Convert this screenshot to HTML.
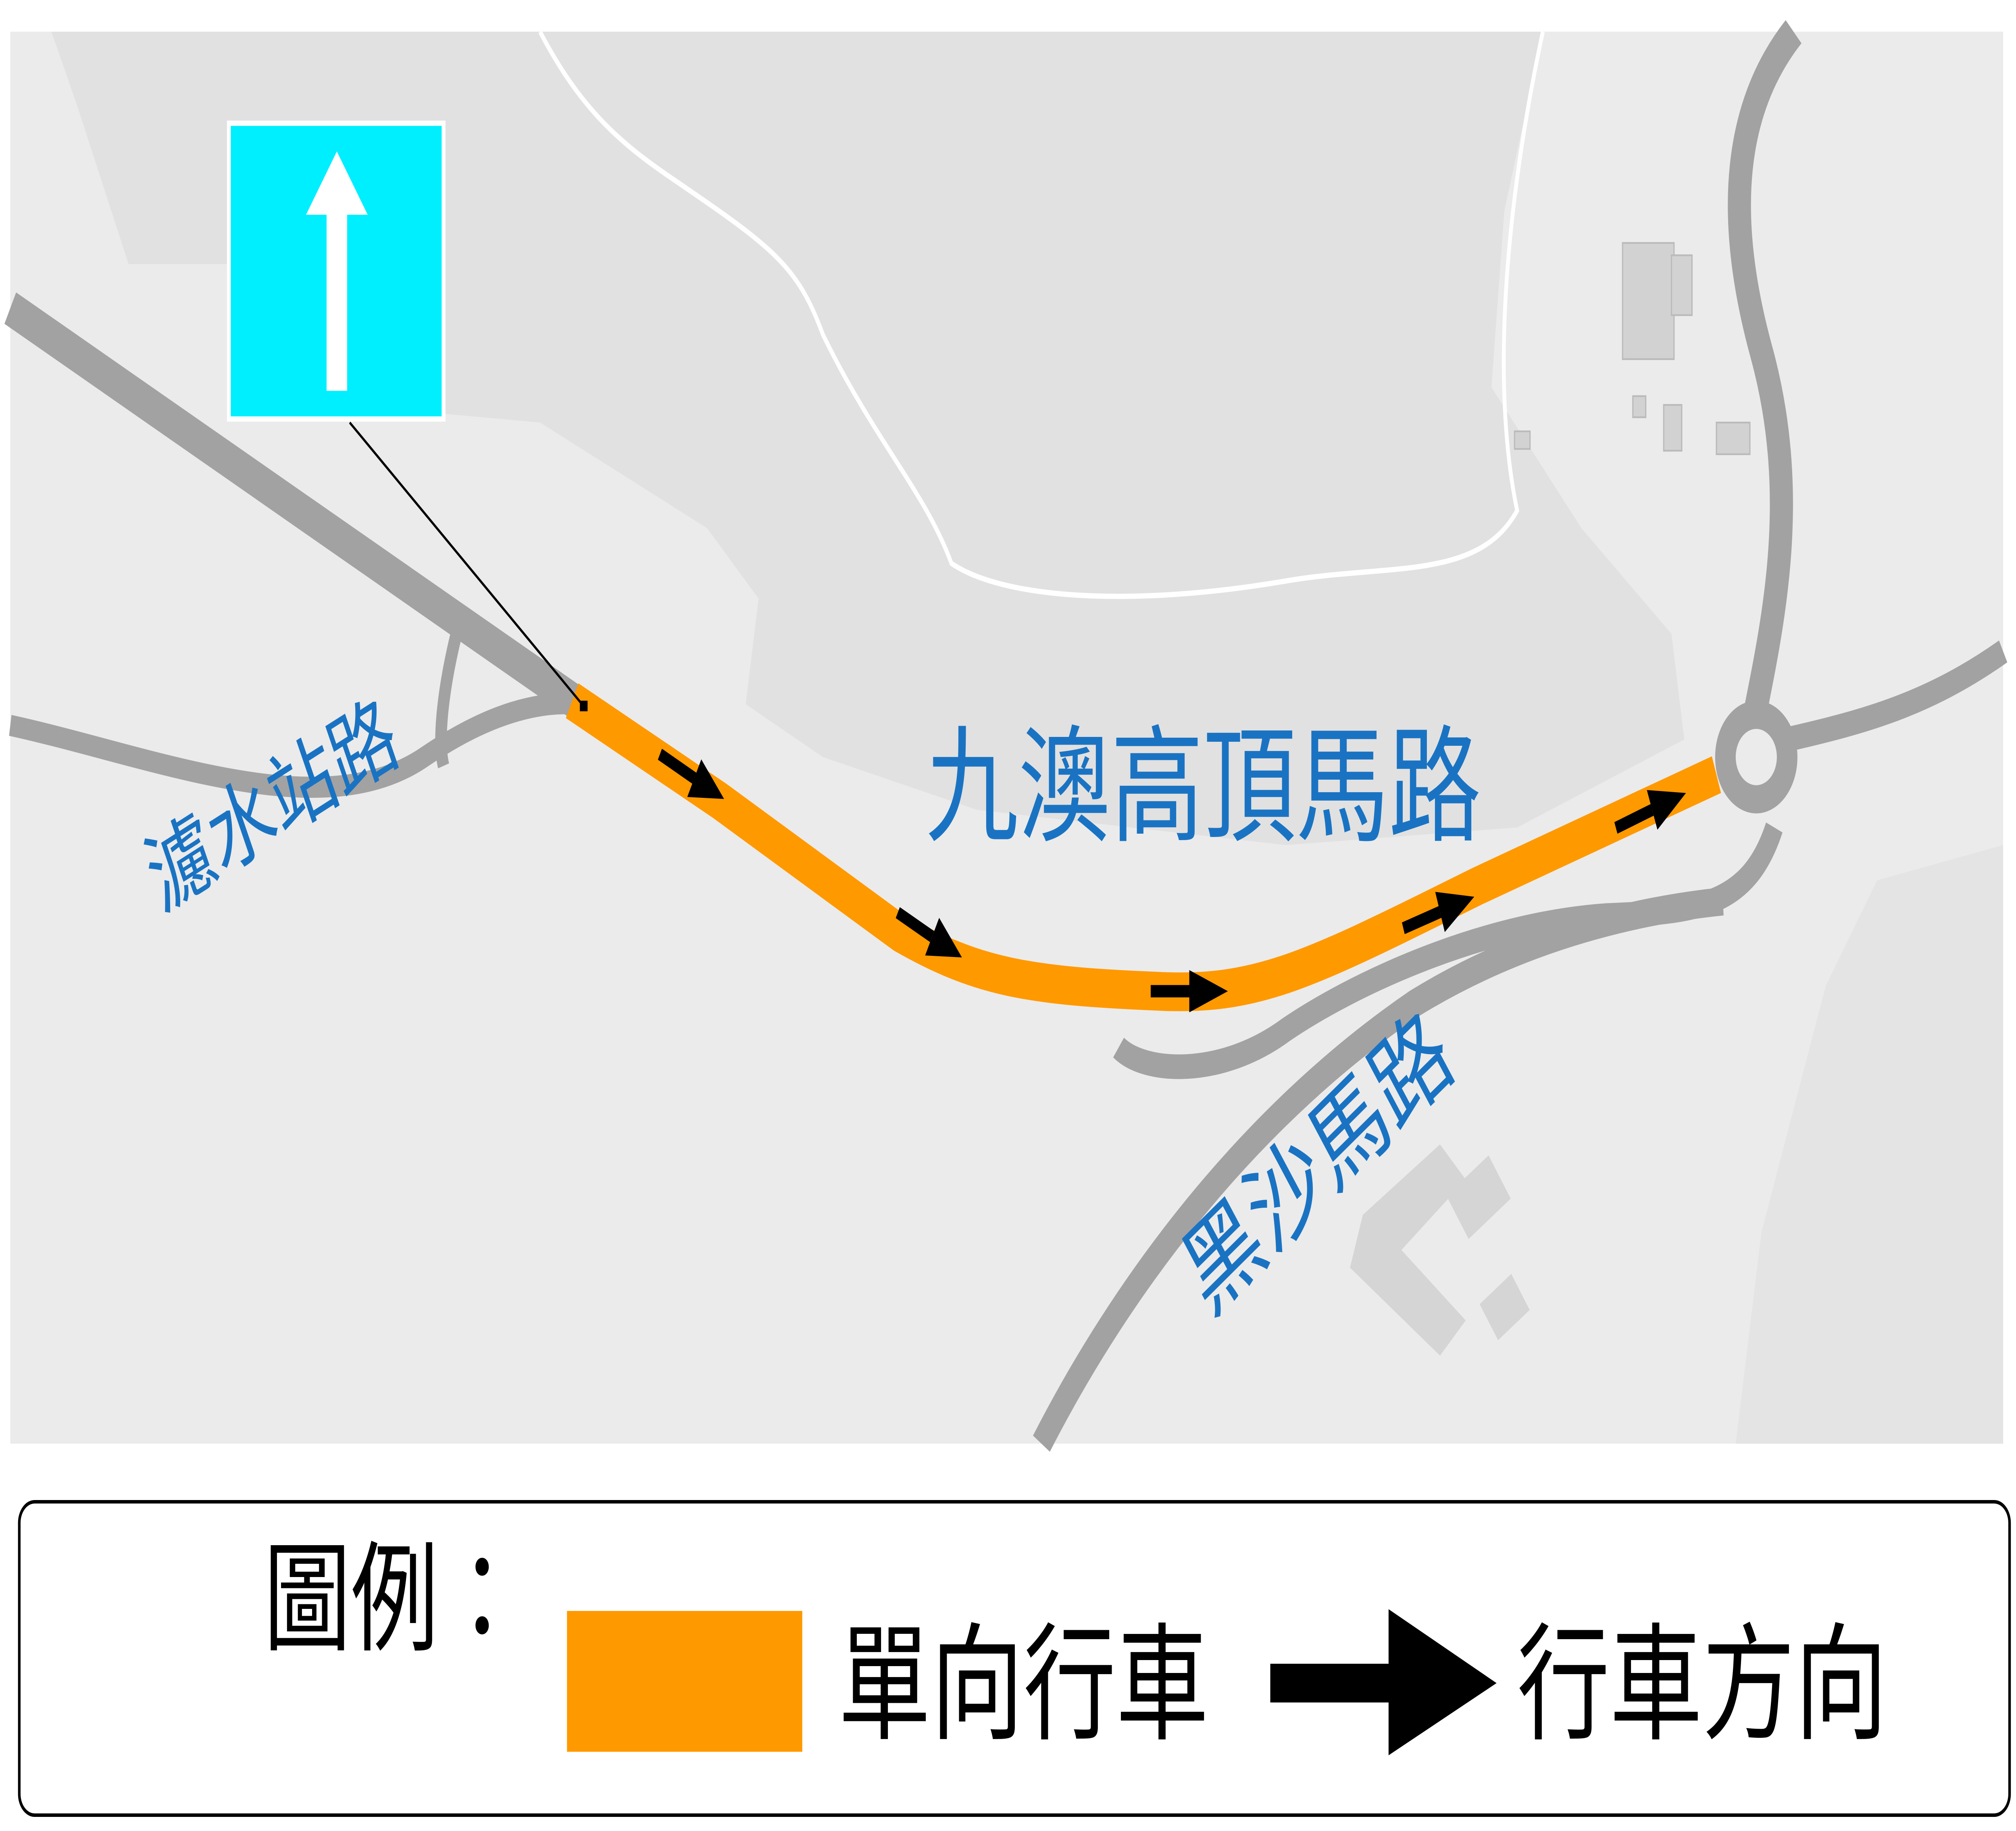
<!DOCTYPE html>
<html><head><meta charset="utf-8">
<style>
html,body{margin:0;padding:0;background:#fff;overflow:hidden;width:100%;height:100%;}
svg{display:block;width:100vw;height:100vh;}
text{font-family:"Liberation Sans","Noto Sans CJK TC",sans-serif;}
</style></head>
<body>
<svg viewBox="0 0 1568 1040" preserveAspectRatio="none" xmlns="http://www.w3.org/2000/svg">
<rect width="1568" height="1040" fill="#fff"/>
<rect x="8" y="18" width="1550" height="802" fill="#ebebeb"/>
<path d="M40,18 L1200,18 L1170,120 L1160,220 L1230,300 L1300,360 L1310,420 L1180,470 L1000,480 L880,470 L760,460 L640,430 L580,400 L590,340 L550,300 L420,240 L345,235 L345,70 L180,70 L178,150 L100,150 L60,60 Z" fill="#e1e1e1"/>
<path d="M1460,500 L1558,480 L1558,820 L1350,820 L1370,700 L1420,560 Z" fill="#e4e4e4"/>
<path d="M420,18 C450,60 480,80 520,100 C600,140 620,150 640,190 C680,250 720,280 740,320 C780,340 880,345 1000,330 C1080,320 1150,330 1180,290 C1160,220 1170,120 1200,18" fill="none" stroke="#fff" stroke-width="3"/>
<rect x="1262" y="138" width="40" height="66" fill="#d2d2d2" stroke="#bbb"/>
<rect x="1300" y="145" width="16" height="34" fill="#d2d2d2" stroke="#bbb"/>
<rect x="1270" y="225" width="10" height="12" fill="#d2d2d2" stroke="#bbb"/>
<rect x="1294" y="230" width="14" height="26" fill="#d2d2d2" stroke="#bbb"/>
<rect x="1335" y="240" width="26" height="18" fill="#d2d2d2" stroke="#bbb"/>
<rect x="1178" y="245" width="12" height="10" fill="#d2d2d2" stroke="#bbb"/>
<path d="M1060,690 L1120,650 L1140,670 L1090,710 L1140,750 L1120,770 L1050,720 Z" fill="#d5d5d5"/>
<rect x="1130" y="665" width="40" height="30" fill="#d5d5d5" transform="rotate(-35 1150 680)"/>
<rect x="1155" y="730" width="30" height="25" fill="#d5d5d5" transform="rotate(-35 1170 742)"/>
<g fill="none" stroke="#a2a2a2" stroke-linecap="butt">
<path d="M8,175 L450,400" stroke-width="20"/>
<path d="M8,412 C120,430 250,470 330,430 C380,405 420,398 450,400" stroke-width="12"/>
<path d="M355,360 C345,390 340,420 345,435" stroke-width="9"/>
<path d="M870,595 C890,610 950,612 1000,585 C1050,560 1150,525 1250,520 C1320,518 1360,515 1380,470" stroke-width="14"/>
<path d="M810,820 C880,720 980,630 1100,570 C1200,525 1300,515 1340,512" stroke-width="16"/>
<path d="M1395,18 C1350,60 1340,120 1370,200 C1400,280 1380,350 1365,405" stroke-width="18"/>
<path d="M1390,420 C1450,410 1500,400 1558,370" stroke-width="14"/>
<circle cx="1366" cy="430" r="24" stroke-width="16"/>
</g>
<path d="M445,398 L560,455 L700,530 C760,555 800,560 900,563 C980,566 1020,550 1150,503 L1335,440" fill="none" stroke="#ff9900" stroke-width="22"/>
<g fill="#000" stroke="#000">
<g transform="translate(540,442) rotate(27)"><line x1="-30" y1="0" x2="0" y2="0" stroke-width="7"/><polygon points="0,-12 26,0 0,12" stroke="none"/></g>
<g transform="translate(725,532) rotate(27)"><line x1="-30" y1="0" x2="0" y2="0" stroke-width="7"/><polygon points="0,-12 26,0 0,12" stroke="none"/></g>
<g transform="translate(925,563)"><line x1="-30" y1="0" x2="0" y2="0" stroke-width="7"/><polygon points="0,-12 30,0 0,12" stroke="none"/></g>
<g transform="translate(1120,518) rotate(-18)"><line x1="-30" y1="0" x2="0" y2="0" stroke-width="7"/><polygon points="0,-12 28,0 0,12" stroke="none"/></g>
<g transform="translate(1285,460) rotate(-20)"><line x1="-30" y1="0" x2="0" y2="0" stroke-width="7"/><polygon points="0,-12 28,0 0,12" stroke="none"/></g>
</g>
<rect x="178" y="70" width="167" height="168" fill="#00efff" stroke="#fff" stroke-width="3"/>
<rect x="254" y="120" width="16" height="102" fill="#fff"/>
<polygon points="238,122 262,86 286,122" fill="#fff"/>
<line x1="272" y1="240" x2="455" y2="402" stroke="#000" stroke-width="1.5"/>
<rect x="451" y="398" width="6" height="6" fill="#000"/>
<text x="720" y="472" font-size="72" fill="#1a73c2">九澳高頂馬路</text>
<text x="0" y="0" font-size="52" fill="#1a73c2" transform="translate(125,518) rotate(-25)">濾水站路</text>
<text x="0" y="0" font-size="60" fill="#1a73c2" transform="translate(940,748) rotate(-36)">黑沙馬路</text>
<rect x="15" y="853" width="1548" height="178" rx="12" fill="#fff" stroke="#000" stroke-width="2"/>
<text x="205" y="932" font-size="68" fill="#000">圖例：</text>
<rect x="441" y="915" width="183" height="80" fill="#ff9900"/>
<text x="652" y="982" font-size="72" fill="#000">單向行車</text>
<rect x="988" y="945" width="95" height="22" fill="#000"/>
<polygon points="1080,914 1164,956 1080,997" fill="#000"/>
<text x="1180" y="982" font-size="72" fill="#000">行車方向</text>
</svg>
</body></html>
